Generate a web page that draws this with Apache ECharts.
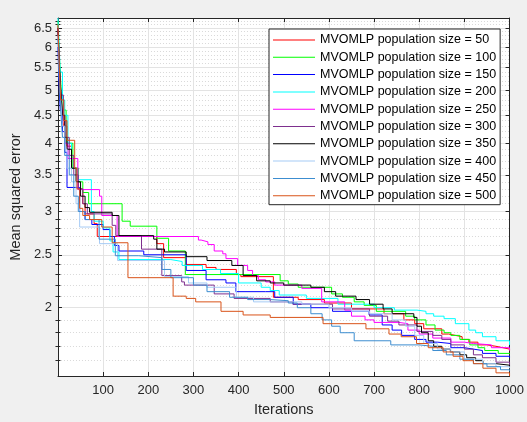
<!DOCTYPE html>
<html>
<head>
<meta charset="utf-8">
<script src="https://cdn.jsdelivr.net/npm/echarts@6/dist/echarts.min.js"></script>
<style>
html,body{margin:0;padding:0;background:#f0f0f0;}
#chart{width:527px;height:422px;}
</style>
</head>
<body>
<div id="chart"></div>
<script>
const seriesNames = [
  'MVOMLP population size = 50','MVOMLP population size = 100','MVOMLP population size = 150',
  'MVOMLP population size = 200','MVOMLP population size = 250','MVOMLP population size = 300',
  'MVOMLP population size = 350','MVOMLP population size = 400','MVOMLP population size = 450',
  'MVOMLP population size = 500'
];
const seriesColors = ['#ff0000','#00ff00','#0000ff','#00ffff','#ff00ff','#7e2f8e','#000000','#a6cbf5','#3c8dd0','#d95319'];

const xTicks = [0,100,200,300,400,500,600,700,800,900,1000];
const yTickLabels = [2,2.5,3,3.5,4,4.5,5,5.5,6,6.5];
const yMinorTicks = [1.6,1.7,1.8,1.9,2.1,2.2,2.3,2.4,2.6,2.7,2.8,2.9,3.1,3.2,3.3,3.4,3.6,3.7,3.8,3.9,
  4.1,4.2,4.3,4.4,4.6,4.7,4.8,4.9,5.1,5.2,5.3,5.4,5.6,5.7,5.8,5.9,6.1,6.2,6.3,6.4,6.6,6.7];
const yMin = 1.5, yMax = 6.78;

// population 50 (red)
const it50  = [0,4,8,12,20,30,45,55,60,80,87,219,234,284,328,350,395,405,477,532,590,650,722,766,790,810,850,865,880,895,910,930,950,970,985,1000];
const mse50 = [6.55,5.3,4.7,4.3,3.95,3.6,3.3,3.1,2.97,2.85,2.70,2.62,2.47,2.40,2.37,2.35,2.30,2.28,2.09,2.07,2.04,1.99,1.95,1.90,1.87,1.83,1.79,1.78,1.77,1.75,1.73,1.71,1.70,1.69,1.68,1.67];
// population 100 (green)
const it100  = [0,3,6,10,18,33,45,55,68,142,160,219,245,282,492,510,532,606,630,656,678,705,770,790,815,835,855,870,890,912,930,945,975,1000];
const mse100 = [6.7,5.8,5.2,4.6,4.0,3.6,3.4,3.25,3.1,2.88,2.82,2.68,2.54,2.30,2.24,2.21,2.18,2.12,2.09,2.05,2.02,1.97,1.93,1.90,1.86,1.82,1.80,1.78,1.75,1.71,1.69,1.67,1.65,1.645];
// population 150 (blue)
const it150  = [0,2,5,10,15,20,48,60,75,100,115,125,135,190,284,328,372,394,460,480,521,560,608,689,718,740,761,790,815,840,870,900,920,940,970,1000];
const mse150 = [6.0,5.2,4.6,4.2,3.85,3.32,3.0,2.9,2.84,2.78,2.7,2.6,2.54,2.50,2.34,2.25,2.22,2.14,2.14,2.09,2.03,2.0,1.97,1.94,1.86,1.82,1.78,1.75,1.73,1.72,1.69,1.68,1.67,1.65,1.63,1.62];
// population 200 (cyan)
const it200  = [0,2,5,10,15,22,30,44,74,80,100,115,122,135,250,275,320,360,400,450,470,490,550,620,700,745,795,815,832,855,880,910,925,940,970,1000];
const mse200 = [6.78,6.2,5.4,4.8,4.5,4.0,3.6,3.43,3.0,2.88,2.80,2.65,2.53,2.45,2.43,2.39,2.35,2.31,2.22,2.18,2.15,2.11,2.08,2.03,2.0,1.98,1.97,1.95,1.93,1.91,1.87,1.82,1.80,1.77,1.74,1.71];
// population 250 (magenta)
const it250  = [0,3,6,10,15,22,44,92,97,131,311,317,332,346,365,372,398,420,431,444,460,480,540,584,635,650,680,700,755,775,800,830,870,900,920,960,1000];
const mse250 = [6.5,5.5,5.0,4.5,4.0,3.75,3.29,3.2,2.95,2.70,2.66,2.64,2.61,2.54,2.51,2.46,2.39,2.34,2.29,2.25,2.23,2.2,2.17,2.05,1.98,1.93,1.90,1.88,1.87,1.82,1.79,1.76,1.73,1.72,1.71,1.69,1.67];
// population 300 (purple)
const it300  = [0,3,7,12,18,25,35,45,55,65,120,128,185,230,274,280,346,390,470,520,608,690,730,755,795,830,850,870,900,920,940,970,1000];
const mse300 = [6.4,5.5,4.9,4.4,4.1,3.8,3.5,3.3,3.1,2.97,2.83,2.71,2.56,2.29,2.23,2.2,2.12,2.08,2.05,2.03,1.99,1.93,1.89,1.86,1.81,1.78,1.75,1.71,1.68,1.64,1.62,1.59,1.57];
// population 350 (black)
const it350  = [0,3,6,10,15,20,30,40,50,60,70,120,135,212,219,236,284,330,385,410,440,470,500,560,590,615,660,690,720,740,788,795,805,820,832,850,869,890,905,925,941,970,1000];
const mse350 = [6.5,5.6,5.0,4.5,4.1,3.9,3.6,3.4,3.2,3.05,2.99,2.95,2.71,2.67,2.56,2.53,2.48,2.44,2.39,2.29,2.24,2.22,2.2,2.18,2.14,2.1,2.07,2.03,1.99,1.95,1.92,1.85,1.80,1.74,1.70,1.68,1.66,1.64,1.62,1.60,1.58,1.57,1.56];
// population 400 (light blue)
const it400  = [0,3,6,10,15,20,30,40,48,92,132,236,289,330,395,433,540,600,650,690,740,770,790,810,840,870,900,940,970,1000];
const mse400 = [6.3,5.3,4.8,4.3,3.9,3.6,3.4,3.1,2.81,2.62,2.44,2.28,2.22,2.18,2.09,2.05,2.03,2.0,1.97,1.95,1.90,1.85,1.78,1.72,1.68,1.66,1.61,1.58,1.56,1.55];
// population 450 (steel blue)
const it450  = [0,3,6,10,15,25,35,45,60,91,127,179,230,250,300,330,380,420,470,510,530,560,585,606,625,656,737,800,830,860,890,920,950,980,1000];
const mse450 = [6.2,5.2,4.6,4.1,3.8,3.5,3.2,3.0,2.9,2.67,2.49,2.47,2.35,2.27,2.2,2.14,2.09,2.07,2.06,2.04,2.0,1.95,1.9,1.85,1.8,1.74,1.71,1.70,1.67,1.64,1.61,1.58,1.56,1.54,1.53];
// population 500 (orange)
const it500  = [0,3,6,13,20,37,42,48,55,70,97,120,155,255,284,305,361,410,470,587,682,733,760,794,820,853,875,897,920,941,970,1000];
const mse500 = [6.6,5.5,4.8,4.4,4.05,3.6,3.3,3.04,2.95,2.9,2.81,2.63,2.27,2.10,2.08,2.05,1.97,1.94,1.92,1.87,1.83,1.79,1.77,1.72,1.69,1.66,1.63,1.60,1.58,1.55,1.52,1.50];

const iters = [it50,it100,it150,it200,it250,it300,it350,it400,it450,it500];
const mses  = [mse50,mse100,mse150,mse200,mse250,mse300,mse350,mse400,mse450,mse500];

const L = v => Math.log10(v);
const fmtY = v => String(Math.round(Math.pow(10, v) * 10) / 10);
const textColor = '#262626';
const font = "'Liberation Sans', Arial, sans-serif";

const series = seriesNames.map((name, k) => ({
  name: name,
  type: 'line',
  step: 'end',
  showSymbol: false,
  symbol: 'none',
  xAxisIndex: 0,
  yAxisIndex: 0,
  animation: false,
  lineStyle: { width: 1, color: seriesColors[k] },
  itemStyle: { color: seriesColors[k] },
  data: iters[k].map((x, i) => [x, L(mses[k][i])])
}));

const yCommon = { type: 'value', min: L(yMin), max: L(yMax), scale: true };
const chart = echarts.init(document.getElementById('chart'), null, { renderer: 'canvas' });
chart.setOption({
  backgroundColor: '#f0f0f0',
  animation: false,
  grid: { left: 55, right: 15, top: 18, bottom: 45, show: true, backgroundColor: '#ffffff', borderWidth: 0 },
  legend: {
    orient: 'vertical', left: 269, top: 29,
    backgroundColor: '#ffffff', borderColor: '#262626', borderWidth: 1, borderRadius: 0,
    padding: [4, 4, 2, 4],
    itemWidth: 42, itemHeight: 1, itemGap: 3.3, icon: 'rect',
    textStyle: { fontFamily: font, fontSize: 12.5, color: '#000', lineHeight: 14 },
    data: seriesNames
  },
  xAxis: [
    { type: 'value', min: 0, max: 1000, interval: 100, position: 'bottom',
      name: 'Iterations', nameLocation: 'middle', nameGap: 26,
      nameTextStyle: { fontFamily: font, fontSize: 14.5, color: textColor },
      axisLine: { show: true, onZero: false, lineStyle: { color: textColor, width: 1 } },
      axisTick: { show: true, inside: true, length: 4, lineStyle: { color: textColor } },
      axisLabel: { fontFamily: font, fontSize: 13, color: textColor, margin: 8,
        formatter: v => (v === 0 ? '' : String(v)) },
      splitLine: { show: true, lineStyle: { color: '#e3e3e3', width: 1 } } },
    { type: 'value', min: 0, max: 1000, interval: 100, position: 'top',
      axisLine: { show: true, onZero: false, lineStyle: { color: textColor, width: 1 } },
      axisTick: { show: true, inside: true, length: 4, lineStyle: { color: textColor } },
      axisLabel: { show: false }, splitLine: { show: false } }
  ],
  yAxis: [
    Object.assign({}, yCommon, { position: 'left',
      name: 'Mean squared error', nameLocation: 'middle', nameGap: 33,
      nameTextStyle: { fontFamily: font, fontSize: 14.5, color: textColor },
      axisLine: { show: true, onZero: false, lineStyle: { color: textColor, width: 1 } },
      axisTick: { show: true, inside: true, length: 4, lineStyle: { color: textColor }, customValues: yTickLabels.map(L) },
      axisLabel: { fontFamily: font, fontSize: 13, color: textColor, margin: 6, customValues: yTickLabels.map(L), formatter: fmtY },
      splitLine: { show: true, lineStyle: { color: '#e3e3e3', width: 1 } } }),
    Object.assign({}, yCommon, { position: 'left',
      axisLine: { show: false },
      axisTick: { show: true, inside: true, length: 2.5, lineStyle: { color: textColor }, customValues: yMinorTicks.map(L) },
      axisLabel: { show: false, customValues: yMinorTicks.map(L) },
      splitLine: { show: true, lineStyle: { color: '#d9d9d9', width: 1, type: [1, 2] } } }),
    Object.assign({}, yCommon, { position: 'right',
      axisLine: { show: true, onZero: false, lineStyle: { color: textColor, width: 1 } },
      axisTick: { show: true, inside: true, length: 4, lineStyle: { color: textColor }, customValues: yTickLabels.map(L) },
      axisLabel: { show: false, customValues: yTickLabels.map(L) }, splitLine: { show: false } }),
    Object.assign({}, yCommon, { position: 'right',
      axisLine: { show: false },
      axisTick: { show: true, inside: true, length: 2.5, lineStyle: { color: textColor }, customValues: yMinorTicks.map(L) },
      axisLabel: { show: false, customValues: yMinorTicks.map(L) }, splitLine: { show: false } })
  ],
  series: series
});
</script>
</body>
</html>
